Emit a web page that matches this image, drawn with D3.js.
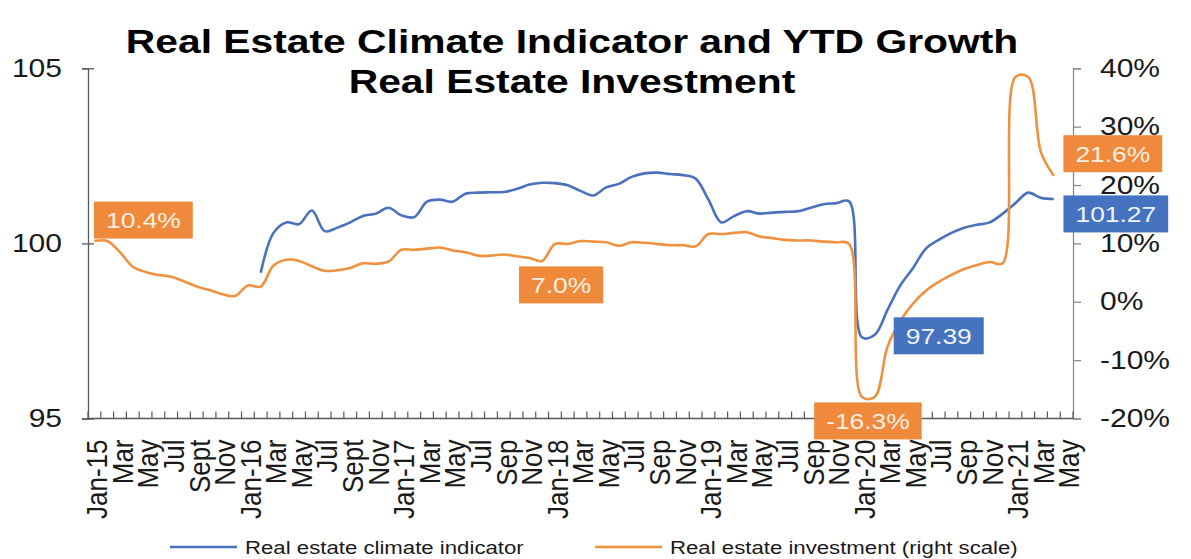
<!DOCTYPE html>
<html><head><meta charset="utf-8">
<script src="https://cdn.jsdelivr.net/npm/d3@7"></script>
<style>
html,body{margin:0;padding:0;background:#fff;}
svg{display:block;font-family:"Liberation Sans",Arial,sans-serif;}
</style></head>
<body><svg id="c" width="1191" height="559"></svg>
<script>
const months = ["Jan-15","Feb-15","Mar-15","Apr-15","May-15","Jun-15","Jul-15","Aug-15","Sep-15","Oct-15","Nov-15","Dec-15",
"Jan-16","Feb-16","Mar-16","Apr-16","May-16","Jun-16","Jul-16","Aug-16","Sep-16","Oct-16","Nov-16","Dec-16",
"Jan-17","Feb-17","Mar-17","Apr-17","May-17","Jun-17","Jul-17","Aug-17","Sep-17","Oct-17","Nov-17","Dec-17",
"Jan-18","Feb-18","Mar-18","Apr-18","May-18","Jun-18","Jul-18","Aug-18","Sep-18","Oct-18","Nov-18","Dec-18",
"Jan-19","Feb-19","Mar-19","Apr-19","May-19","Jun-19","Jul-19","Aug-19","Sep-19","Oct-19","Nov-19","Dec-19",
"Jan-20","Feb-20","Mar-20","Apr-20","May-20","Jun-20","Jul-20","Aug-20","Sep-20","Oct-20","Nov-20","Dec-20",
"Jan-21","Feb-21","Mar-21","Apr-21","May-21"];

const tickLabels = ["Jan-15","Mar","May","Jul","Sept","Nov","Jan-16","Mar","May","Jul","Sept","Nov",
"Jan-17","Mar","May","Jul","Sep","Nov","Jan-18","Mar","May","Jul","Sep","Nov",
"Jan-19","Mar","May","Jul","Sep","Nov","Jan-20","Mar","May","Jul","Sep","Nov",
"Jan-21","Mar","May"];

// Real estate climate indicator (left scale)
const climate = [null,null,null,null,null,null,null,null,null,null,null,null,
null,99.16,100.3,100.6,100.55,100.94,100.35,100.45,100.6,100.78,100.85,101.02,
100.8,100.75,101.19,101.25,101.19,101.42,101.45,101.46,101.47,101.55,101.68,101.73,
101.72,101.66,101.5,101.37,101.6,101.7,101.9,102.0,102.02,101.98,101.95,101.85,
101.25,100.6,100.78,100.92,100.85,100.88,100.9,100.92,101.02,101.12,101.15,101.2,
97.32,97.39,98.1,98.8,99.3,99.85,100.1,100.3,100.45,100.53,100.6,100.85,
101.15,101.45,101.3,101.27,null];

// Real estate investment YTD growth, % (right scale)
const investment = [10.4,10.4,8.5,6.0,5.1,4.6,4.3,3.5,2.6,2.0,1.3,1.0,
2.8,2.6,6.2,7.2,7.0,6.1,5.3,5.4,5.8,6.6,6.5,6.9,
8.9,8.9,9.1,9.3,8.8,8.5,7.9,7.9,8.1,7.8,7.5,7.0,
9.9,9.9,10.4,10.3,10.2,9.6,10.2,10.1,9.9,9.7,9.7,9.5,
11.6,11.6,11.8,11.9,11.2,10.9,10.6,10.5,10.5,10.3,10.2,9.9,
-16.3,-16.3,-7.7,-3.3,-0.3,1.9,3.4,4.6,5.6,6.3,6.8,6.6,
38.5,38.5,25.6,21.6,null];

const leftTicks = [95,100,105];
const rightTicks = [-20,-10,0,10,20,30,40];

const seriesNames = ["Real estate climate indicator","Real estate investment (right scale)"];
const titleLines = ["Real Estate Climate Indicator and YTD Growth","Real Estate Investment"];

// data labels: series, month index, text, box-centre offset from point
const dataLabels = [
  {s:"inv", i:0,  t:"10.4%", dx:49, dy:-21},
  {s:"inv", i:35, t:"7.0%",  dx:19, dy:24},
  {s:"inv", i:60, t:"-16.3%",dx:6,  dy:24},
  {s:"cli", i:61, t:"97.39", dx:64, dy:1},
  {s:"inv", i:75, t:"21.6%", dx:59, dy:-22},
  {s:"cli", i:75, t:"101.27",dx:62, dy:15}
];

const BLUE = "#4A71BC", ORANGE = "#F0913F";
const BOXO = "#EF8A3D", BOXB = "#4673C0";
const SX = 1.2;

const svg = d3.select("#c");
const L = 88, R = 1073, T = 68.3, B = 418.5;

const x = d3.scaleBand().domain(months).range([L, R]);
const cx = m => x(m) + x.bandwidth()/2;
const yL = d3.scaleLinear().domain([95,105]).range([B, T]);
const yR = d3.scaleLinear().domain([-20,40]).range([B, T]);

// Title
titleLines.forEach((t,k) => {
  svg.append("text").attr("transform",`translate(572,${k===0?53:93}) scale(${SX},1)`)
    .attr("text-anchor","middle").attr("font-weight","bold").attr("font-size",34)
    .attr("fill","#000").text(t);
});

// Left axis
const gl = svg.append("g").attr("transform",`translate(${L},0)`)
  .call(d3.axisLeft(yL).tickValues(leftTicks).tickSize(6).tickPadding(0).tickFormat(d3.format("d")));
gl.select(".domain").attr("stroke","#595959").attr("stroke-width",1.3);
gl.selectAll(".tick line").attr("x1",6).attr("stroke","#595959").attr("stroke-width",1.3);
gl.selectAll(".tick text").attr("x",null)
  .attr("transform",`translate(-26,0) scale(${SX},1)`)
  .attr("font-size",25).attr("fill","#1a1a1a").attr("font-family",null);

// Right axis
const gr = svg.append("g").attr("transform",`translate(${R},0)`)
  .call(d3.axisRight(yR).tickValues(rightTicks).tickSize(8).tickFormat(d => d + "%"));
gr.select(".domain").attr("stroke","#8c8c8c").attr("stroke-width",1.3);
gr.selectAll(".tick line").attr("stroke","#8c8c8c").attr("stroke-width",1.3);
gr.selectAll(".tick text").attr("x",null).attr("text-anchor","start")
  .attr("transform",`translate(27,0) scale(${SX},1)`)
  .attr("font-size",25).attr("fill","#1a1a1a").attr("font-family",null);

// Bottom axis
const tickMonths = months.filter((m,i) => i % 2 === 0);
const gb = svg.append("g").attr("transform",`translate(0,${B})`)
  .call(d3.axisBottom(x).tickValues(tickMonths).tickSize(0).tickFormat((m,k) => tickLabels[k]));
gb.select(".domain").attr("stroke","#595959").attr("stroke-width",1.3).attr("d",`M${L},0H${R}`);
gb.selectAll(".tick text").attr("y",null).attr("dy","0.36em").attr("text-anchor","end")
  .attr("transform",`translate(2,21) scale(1.15,1) rotate(-90)`)
  .attr("font-size",26).attr("fill","#1a1a1a").attr("font-family",null);
gb.append("g").selectAll("line").data(months.concat(["__end"])).join("line")
  .attr("x1", m => m === "__end" ? R : x(m)).attr("x2", m => m === "__end" ? R : x(m))
  .attr("y1",0).attr("y2",-7).attr("stroke","#595959").attr("stroke-width",1.2);

// Lines (smoothed like the original)
const curve = d3.curveCatmullRom.alpha(0.5);
const lineCli = d3.line().defined(d => d.v != null).x(d => cx(d.m)).y(d => yL(d.v)).curve(curve);
const lineInv = d3.line().defined(d => d.v != null).x(d => cx(d.m)).y(d => yR(d.v)).curve(curve);
const cliData = months.map((m,i) => ({m, v: climate[i]}));
const invData = months.map((m,i) => ({m, v: investment[i]}));

svg.append("path").datum(cliData).attr("d", lineCli).attr("fill","none")
  .attr("stroke",BLUE).attr("stroke-width",2.6).attr("stroke-linejoin","round");
svg.append("path").datum(invData).attr("d", lineInv).attr("fill","none")
  .attr("stroke",ORANGE).attr("stroke-width",2.6).attr("stroke-linejoin","round");

// Data labels
dataLabels.forEach(d => {
  const m = months[d.i];
  const px = cx(m);
  const py = d.s === "inv" ? yR(investment[d.i]) : yL(climate[d.i]);
  const bx = px + d.dx, by = py + d.dy;
  const g = svg.append("g").attr("transform",`translate(${bx},${by})`);
  const r = g.append("rect").attr("fill", d.s === "inv" ? BOXO : BOXB);
  const t = g.append("text").attr("transform",`scale(${SX},1)`).attr("text-anchor","middle")
    .attr("dy","0.36em").attr("font-size",22).attr("fill", d.s === "inv" ? "#FDF0E2" : "#EEF3FC").text(d.t);
  const w = t.node().getComputedTextLength() * SX + 24;
  r.attr("x",-w/2).attr("y",-18.5).attr("width",w).attr("height",37);
});

// Legend
const leg = [{x0:170, x1:237, tx:245, c:BLUE, n:seriesNames[0]},
             {x0:595, x1:662, tx:670, c:ORANGE, n:seriesNames[1]}];
leg.forEach(l => {
  svg.append("line").attr("x1",l.x0).attr("x2",l.x1).attr("y1",547).attr("y2",547)
    .attr("stroke",l.c).attr("stroke-width",2.6);
  svg.append("text").attr("transform",`translate(${l.tx},547) scale(${SX},1)`)
    .attr("dy","0.36em").attr("font-size",18.5).attr("fill","#1a1a1a").text(l.n);
});
</script></body></html>
